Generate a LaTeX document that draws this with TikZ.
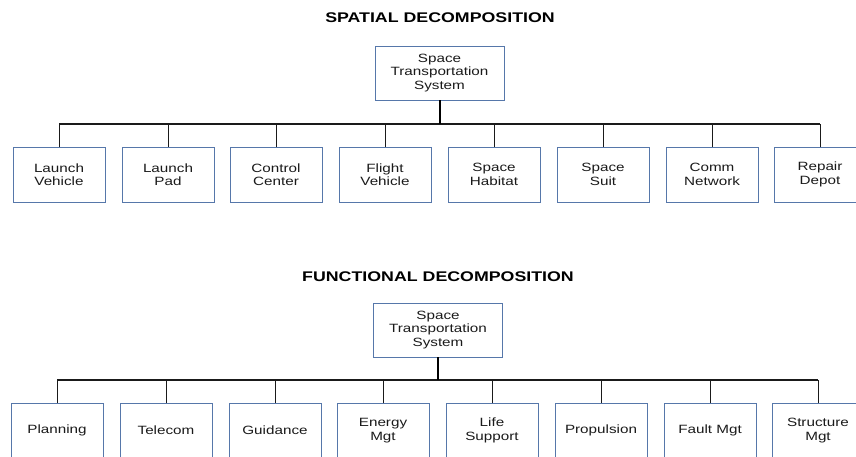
\documentclass[tikz,border=0pt]{standalone}
\usepackage{fontspec}
\setmainfont{Liberation Sans}[FakeStretch=1.27]
\definecolor{boxblue}{HTML}{5677AA}
\definecolor{ink}{HTML}{1A1A1A}
\tikzset{
  box/.style={draw=boxblue, line width=0.9pt, fill=white, minimum width=92pt, minimum height=55pt,
    align=center, inner sep=0pt, font=\fontsize{12}{13.5}\selectfont, text=ink},
  rootbox/.style={box, minimum width=129pt, minimum height=54pt},
  ttl/.style={font=\bfseries\fontsize{14}{16}\selectfont, text=black},
  conn/.style={draw=ink, line width=1pt},
  busline/.style={draw=ink, line width=1.4pt},
  rootline/.style={draw=black, line width=2pt}
}
\begin{document}
\begin{tikzpicture}[x=1pt,y=-1pt]
\path[use as bounding box, clip] (0,0) rectangle (856,456);
% ---------- spatial ----------
\node[ttl] (t1) at (440,18) {SPATIAL DECOMPOSITION};
\node[rootbox] (r1) at (439.5,73) {Space\\Transportation\\System};
\coordinate (bus1) at (439.5,124);
\node[box] (a1) at (59,174.5) {Launch\\Vehicle};
\node[box] (a2) at (168,174.5) {Launch\\Pad};
\node[box] (a3) at (276,174.5) {Control\\Center};
\node[box] (a4) at (385,174.5) {Flight\\Vehicle};
\node[box] (a5) at (494,174.5) {Space\\Habitat};
\node[box] (a6) at (603,174.5) {Space\\Suit};
\node[box] (a7) at (712,174.5) {Comm\\Network};
\node[box] (a8) at (820,174.5) {Repair\\Depot};
\draw[busline] (a1.north |- bus1) -- (a8.north |- bus1);
\foreach \i in {1,...,8}{\draw[conn] (a\i.north) -- (a\i.north |- bus1);}
\draw[rootline] (r1.south) -- (bus1);
% ---------- functional ----------
\node[ttl] (t2) at (438,277) {FUNCTIONAL DECOMPOSITION};
\node[rootbox] (r2) at (438,330) {Space\\Transportation\\System};
\coordinate (bus2) at (438,380);
\node[box] (b1) at (57,430.5) {Planning};
\node[box] (b2) at (166,430.5) {Telecom};
\node[box] (b3) at (275,430.5) {Guidance};
\node[box] (b4) at (383,430.5) {Energy\\Mgt};
\node[box] (b5) at (492,430.5) {Life\\Support};
\node[box] (b6) at (601,430.5) {Propulsion};
\node[box] (b7) at (710,430.5) {Fault Mgt};
\node[box] (b8) at (818,430.5) {Structure\\Mgt};
\draw[busline] (b1.north |- bus2) -- (b8.north |- bus2);
\foreach \i in {1,...,8}{\draw[conn] (b\i.north) -- (b\i.north |- bus2);}
\draw[rootline] (r2.south) -- (bus2);
\end{tikzpicture}
\end{document}
